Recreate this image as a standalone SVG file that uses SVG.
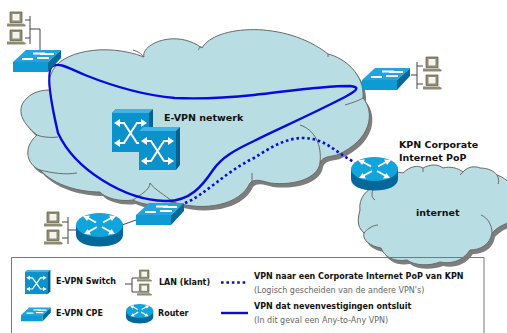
<svg xmlns="http://www.w3.org/2000/svg" width="507" height="333" viewBox="0 0 507 333">
<style>
text{font-family:"DejaVu Sans",Verdana,sans-serif;fill:#111}
.b{font-weight:bold}
.g{fill:#666}
.inner{fill:none;stroke:#6a6a6a;stroke-width:1}
.solid{fill:none;stroke:#0a0adc;stroke-width:2.4}
.dot{fill:none;stroke:#0a0adc;stroke-width:2.6;stroke-dasharray:2.6 2.8}
.lan{fill:none;stroke:#444;stroke-width:1}
.ar{fill:none;stroke:#fff;stroke-width:2}
</style>
<defs>
<g id="pc">
<path d="M3 0H15V10.500H3Z" fill="#8f8b72" stroke="#6b6854" stroke-width=".8"/>
<path d="M5.500 2H12.500V8.500H5.500Z" fill="#f4f4ee"/>
<path d="M0 11.500H16L19 13L18 14.500H0Z" fill="#8f8b72"/>
</g>
<g id="sw">
<path d="M0 4L4 0H41V38L37 43H0Z" fill="#05628f"/>
<path d="M0 4H37V43H0Z" fill="#0b92cc"/>
<path d="M0 4L4 0H41L37 4Z" fill="#3fb4e6"/>
<path class="ar" d="M5 14H12L25 34H32M5 34H12L25 14H32"/>
<path d="M2 14L8 10V18ZM35 14L29 10V18ZM2 34L8 30V38ZM35 34L29 30V38Z" fill="#fff"/>
</g>
<g id="cpe">
<path d="M35 13L48 1V9L35 23Z" fill="#056a98"/>
<path d="M0 13H35V23H0Z" fill="#0f9ad4"/>
<path d="M0 13L13 1H48L35 13Z" fill="#22a5dc"/>
<path class="ar" stroke-width="1.500" d="M20 4.500H32M27 5H41M9 10H20M24 9H36"/>
</g>
<g id="rt">
<path d="M0 12V22C0 29 10 33.500 23.500 33.500S47 29 47 22V12Z" fill="#05689a"/>
<ellipse cx="23.500" cy="12" rx="23.500" ry="12" fill="#12a4dc"/>
<path class="ar" stroke-width="2.800" d="M11 4.500L20 9.500M36 4.500L27 9.500M12 19L21 14M35 19L26 14"/>
<path d="M7 3L14 2.500L11 8ZM40 3L33 2.500L36 8ZM8 21L15 21.500L11.500 16ZM39 21L32 21.500L35.500 16Z" fill="#fff"/>
</g>
<path id="cl" d="M52 72C60 52 105 42 144 57C140 45 175 28 202 48C215 25 285 20 328 54C345 58 365 75 363 98C375 112 372 140 337 155C328 157 322 157 320 163C318 178 295 186 270 183C262 181 255 178 250 183C240 205 205 212 173 202C160 208 140 204 133 200C120 202 105 198 100 192C80 192 55 186 40 170C27 165 22 148 37 135C28 128 12 112 27 98C33 92 42 90 50 90C48 83 49 78 52 72Z"/>
<path id="cl2" d="M375 187C375 178 393 170 403 173C410 166 418 165 423 168C430 164 438 164 443 168C450 166 458 168 463 172C468 166 476 166 480 168C488 168 494 171 497 175C503 177 507 180 510 184V222C500 226 497 228 492 233C490 245 480 250 470 250C462 262 450 264 440 262C430 266 415 266 407 260C395 262 385 258 381 248C370 246 362 240 364 233C356 226 358 218 360 210C358 198 368 188 375 187Z"/>
</defs>

<g id="cloud-evpn">
<use href="#cl" x="3" y="4" fill="#7d7d7d"/>
<use href="#cl" fill="#b8dde2" stroke="#6a6a6a"/>
<path class="inner" d="M144 57C140 53 139 52 133 50M202 48C200 44 199 50 198 50M328 54V57M363 98C360 100 352 103 345 105M54 117C53 108 51 98 50 90M37 135C42 137 50 138 58 137M300 125C315 130 322 145 320 163M133 200C140 195 150 190 150 183M173 202C165 195 155 190 150 183M77 173C65 175 52 173 40 170M252 173V183"/>
</g>
<g id="cloud-internet">
<use href="#cl2" x="3" y="4" fill="#7d7d7d"/>
<use href="#cl2" fill="#b8dde2" stroke="#6a6a6a"/>
<path class="inner" d="M375 200C370 197 372 190 375 187M364 233C368 228 374 225 378 225M492 233C492 225 488 218 481 215M497 175C499 179 499 182 498 184M463 172L460 175M423 168V172"/>
</g>

<g id="connectors">
<path class="lan" d="M30 16V44M25 20H30M25 38H30M30 29H40V50"/>
<path class="lan" d="M417 62V89M411 75H417M417 66H423M417 84H423"/>
<path class="lan" d="M68 217V244M68 230H77M62 222H68M62 238H68M122 225L136 220"/>
<path class="dot" d="M185 203C205 195 225 172 254 158C270 148 285 138 303 138C325 138 335 152 354 162"/>
<path class="solid" d="M53 66C47 69 48 90 58 133C75 170 125 200 165 201C190 202 203 185 213 170C222 157 235 150 254 141C275 130 300 120 345 97C358 90 360 87 350 86C320 86 290 91 254 95C225 98 200 99 175 98C140 95 110 85 85 75C70 69 60 62 53 66Z"/>
</g>

<g id="pc-nw"><use href="#pc" x="7" y="12"/><use href="#pc" x="7" y="30"/></g>
<g id="cpe-nw"><use href="#cpe" x="13" y="49"/></g>
<g id="pc-ne"><use href="#pc" x="423" y="57"/><use href="#pc" x="423" y="75"/></g>
<g id="cpe-ne"><use href="#cpe" x="362" y="67"/></g>
<g id="switch-a"><use href="#sw" x="112" y="109"/></g>
<g id="switch-b"><use href="#sw" x="139" y="127"/></g>
<g id="router-pop"><use href="#rt" x="351" y="157"/></g>
<g id="cpe-s"><use href="#cpe" x="136" y="202"/></g>
<g id="router-s"><use href="#rt" x="76" y="213"/></g>
<g id="pc-s"><use href="#pc" x="44" y="212"/><use href="#pc" x="44" y="230"/></g>

<text class="b" x="164" y="121" font-size="9.500">E-VPN netwerk</text>
<text class="b" x="399" y="148" font-size="9.500">KPN Corporate</text>
<text class="b" x="399" y="161" font-size="9.500">Internet PoP</text>
<text class="b" x="416" y="216" font-size="9.500">internet</text>

<g id="legend">
<path d="M11.500 257.500H484V333M11.500 257.500V333" fill="none" stroke="#777"/>
<g transform="translate(25 270) scale(.62 .56)"><use href="#sw"/></g>
<text class="b" x="56" y="284" font-size="8">E-VPN Switch</text>
<path class="lan" d="M125 284H132M132 278V292M132 278H139M132 292H139"/>
<use href="#pc" transform="translate(137 270) scale(.8)"/>
<use href="#pc" transform="translate(137 284) scale(.8)"/>
<text class="b" x="159" y="285" font-size="8">LAN (klant)</text>
<g transform="translate(21 307) scale(.62)"><use href="#cpe"/></g>
<text class="b" x="56" y="316" font-size="8">E-VPN CPE</text>
<g transform="translate(126 304) scale(.58)"><use href="#rt"/></g>
<text class="b" x="158" y="316" font-size="8">Router</text>
<path class="dot" d="M221 282.500H248" stroke-dasharray="2 1.500"/>
<path class="solid" d="M221 313H248"/>
<text class="b" x="254" y="279" font-size="8">VPN naar een Corporate Internet PoP van KPN</text>
<text x="254" y="293" font-size="8" style="fill:#666">(Logisch gescheiden van de andere VPN's)</text>
<text class="b" x="254" y="309" font-size="8">VPN dat nevenvestigingen ontsluit</text>
<text x="254" y="323" font-size="8" style="fill:#666">(In dit geval een Any-to-Any VPN)</text>
</g>
</svg>
